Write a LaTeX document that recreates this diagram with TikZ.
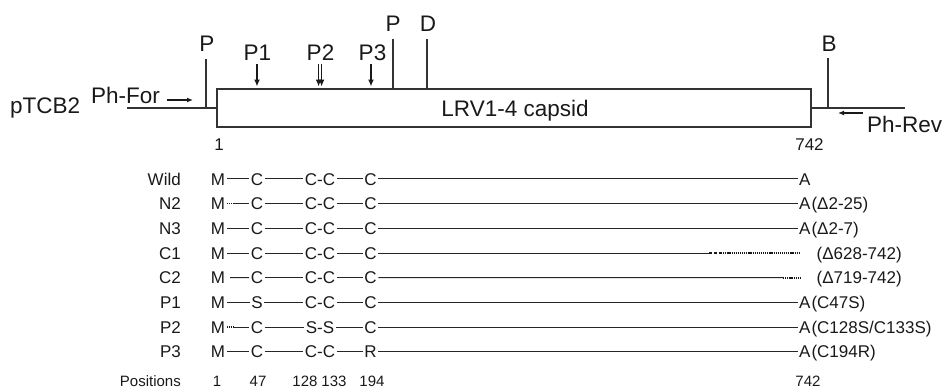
\documentclass[tikz,border=0pt]{standalone}
\usepackage{fontspec}
\setmainfont{Liberation Sans}
\usetikzlibrary{arrows.meta}
\tikzset{
 lnbox/.style={line width=1.3pt, draw=black!80},
 ln/.style={line width=1pt, draw=black!85},
 dotln/.style={line width=1.7pt, draw=black!90, dash pattern=on 1.2pt off 0.9pt},
 dashln/.style={line width=1.7pt, draw=black!90, dash pattern=on 3pt off 2pt},
 big/.style={inner sep=0pt, font=\fontsize{22.5}{27}\selectfont, text=black!90},
 mid/.style={inner sep=0pt, font=\fontsize{17}{20}\selectfont, text=black!90},
 seq/.style={inner xsep=1.5pt, inner ysep=0pt, text height=12.2pt, text depth=0pt, anchor=base, font=\fontsize{17}{20}\selectfont, text=black!90},
 endtxt/.style={seq, anchor=base west},
 rowlab/.style={mid, anchor=base east},
 posnum/.style={inner sep=0pt, font=\fontsize{15}{18}\selectfont, anchor=base, text=black!90},
 arr/.style={line width=1.4pt, draw=black!90, -{Latex[length=7pt,width=6pt]}},
 sarr/.style={line width=1.3pt, draw=black!90, -{Latex[length=6pt,width=5pt]}},
}
\newcommand\seqrow[6]{%
 \node[rowlab] (#1l) at (181,#2) {#3};
 \node[seq] (#1m) at (218,#2) {M};
 \node[seq] (#1a) at (257,#2) {#4};
 \node[seq] (#1b) at (320,#2) {#5};
 \node[seq] (#1c) at (370.5,#2) {#6};
 \draw[ln] (#1a.east) -- (#1b.west);
 \draw[ln] (#1b.east) -- (#1c.west);
}
\begin{document}
\begin{tikzpicture}[x=1pt,y=-1pt]
\useasboundingbox (0,0) rectangle (945,388);
% ---------- construct ----------
\node[big, anchor=base west] (ptcb) at (10,113) {pTCB2};
\node[big, anchor=base west] (phfor) at (91,103) {Ph-For};
\node[big, anchor=base west] (phrev) at (867,132) {Ph-Rev};
\node[lnbox, draw, rectangle, minimum width=594pt, minimum height=38pt, inner sep=0pt] (box) at (514,108) {};
\node[big, anchor=base] (cap) at (515,116) {LRV1-4 capsid};
\coordinate (dnaL) at (127,108);
\coordinate (dnaR) at (905,108);
\draw[lnbox] (dnaL) -- (box.west);
\draw[lnbox] (box.east) -- (dnaR);
% restriction sites
\node[big, anchor=base] (sPa) at (207,51.7) {P};
\coordinate (sPat) at (206,59); \coordinate (sPab) at (206,108);
\draw[lnbox] (sPat) -- (sPab);
\node[big, anchor=base] (sPb) at (393,31.7) {P};
\coordinate (sPbt) at (393,39);
\draw[lnbox] (sPbt) -- (sPbt |- box.north);
\node[big, anchor=base] (sD) at (428,31.7) {D};
\coordinate (sDt) at (427,39);
\draw[lnbox] (sDt) -- (sDt |- box.north);
\node[big, anchor=base] (sB) at (829,51.7) {B};
\coordinate (sBt) at (828,58); \coordinate (sBb) at (828,108);
\draw[lnbox] (sBt) -- (sBb);
% mutation arrows
\node[big, anchor=base] (mP1) at (257.5,60) {P1};
\node[big, anchor=base] (mP2) at (320.5,60) {P2};
\node[big, anchor=base] (mP3) at (372.5,60) {P3};
\coordinate (a1t) at (257,64); \coordinate (a1b) at (257,86.5);
\coordinate (a2t) at (318.6,64); \coordinate (a2b) at (318.6,86.5);
\coordinate (a2u) at (321.6,64); \coordinate (a2v) at (321.6,86.5);
\coordinate (a3t) at (371,64); \coordinate (a3b) at (371,86.5);
\draw[arr] (a1t) -- (a1b);
\draw[arr] (a2t) -- (a2b);
\draw[arr] (a2u) -- (a2v);
\draw[arr] (a3t) -- (a3b);
% primer arrows
\coordinate (pfs) at (167,100); \coordinate (pfe) at (193,100);
\draw[sarr] (pfs) -- (pfe);
\coordinate (prs) at (863,113); \coordinate (pre) at (838,113);
\draw[sarr] (prs) -- (pre);
% numbering
\node[mid, anchor=base] (n1) at (219,150) {1};
\node[mid, anchor=base] (n742) at (809.5,150) {742};
% ---------- constructs ----------
% Wild
\seqrow{w}{185}{Wild}{C}{C-C}{C}
\node[endtxt] (we) at (797.5,185) {A};
\draw[ln] (wm.east) -- (wa.west);
\draw[ln] (wc.east) -- (we.west);
% N2
\seqrow{na}{209.7}{N2}{C}{C-C}{C}
\node[endtxt] (nae) at (797.5,209.7) {A\kern1pt(Δ2-25)};
\coordinate (nad) at (234,203.6);
\draw[dotln] (nam.east) -- (nad);
\draw[ln] (nad) -- (naa.west);
\draw[ln] (nac.east) -- (nae.west);
% N3
\seqrow{nb}{234.4}{N3}{C}{C-C}{C}
\node[endtxt] (nbe) at (797.5,234.4) {A\kern1pt(Δ2-7)};
\draw[ln] (nbm.east) -- (nba.west);
\draw[ln] (nbc.east) -- (nbe.west);
% C1
\seqrow{ca}{259.1}{C1}{C}{C-C}{C}
\node[endtxt] (cae) at (815,259.1) {(Δ628-742)};
\coordinate (cad1) at (709,253);
\coordinate (cad2) at (721,253);
\coordinate (cad3) at (800,253);
\draw[ln] (cam.east) -- (caa.west);
\draw[ln] (cac.east) -- (cad1);
\draw[dashln] (cad1) -- (cad2);
\draw[dotln] (cad2) -- (cad3);
% C2
\seqrow{cb}{283.8}{C2}{C}{C-C}{C}
\node[endtxt] (cbe) at (815,283.8) {(Δ719-742)};
\coordinate (cbs) at (230,277.7);
\coordinate (cbd1) at (783,277.7);
\coordinate (cbd2) at (801,277.7);
\draw[ln] (cbs) -- (cba.west);
\draw[ln] (cbc.east) -- (cbd1);
\draw[dotln] (cbd1) -- (cbd2);
% P1
\seqrow{pa}{308.5}{P1}{S}{C-C}{C}
\node[endtxt] (pae) at (797.5,308.5) {A\kern1pt(C47S)};
\draw[ln] (pam.east) -- (paa.west);
\draw[ln] (pac.east) -- (pae.west);
% P2
\seqrow{pb}{333.2}{P2}{C}{S-S}{C}
\node[endtxt] (pbe) at (797.5,333.2) {A\kern1pt(C128S/C133S)};
\coordinate (pbd) at (234,327.1);
\draw[dotln] (pbm.east) -- (pbd);
\draw[ln] (pbd) -- (pba.west);
\draw[ln] (pbc.east) -- (pbe.west);
% P3
\seqrow{pc}{357.9}{P3}{C}{C-C}{R}
\node[endtxt] (pce) at (797.5,357.9) {A\kern1pt(C194R)};
\draw[ln] (pcm.east) -- (pca.west);
\draw[ln] (pcc.east) -- (pce.west);
% positions
\node[posnum, anchor=base east] (posl) at (181,386.5) {Positions};
\node[posnum] (q1) at (217,386.5) {1};
\node[posnum] (q47) at (258,386.5) {47};
\node[posnum] (q128) at (305,386.5) {128};
\node[posnum] (q133) at (334,386.5) {133};
\node[posnum] (q194) at (372,386.5) {194};
\node[posnum] (q742) at (808,386.5) {742};
\end{tikzpicture}
\end{document}
